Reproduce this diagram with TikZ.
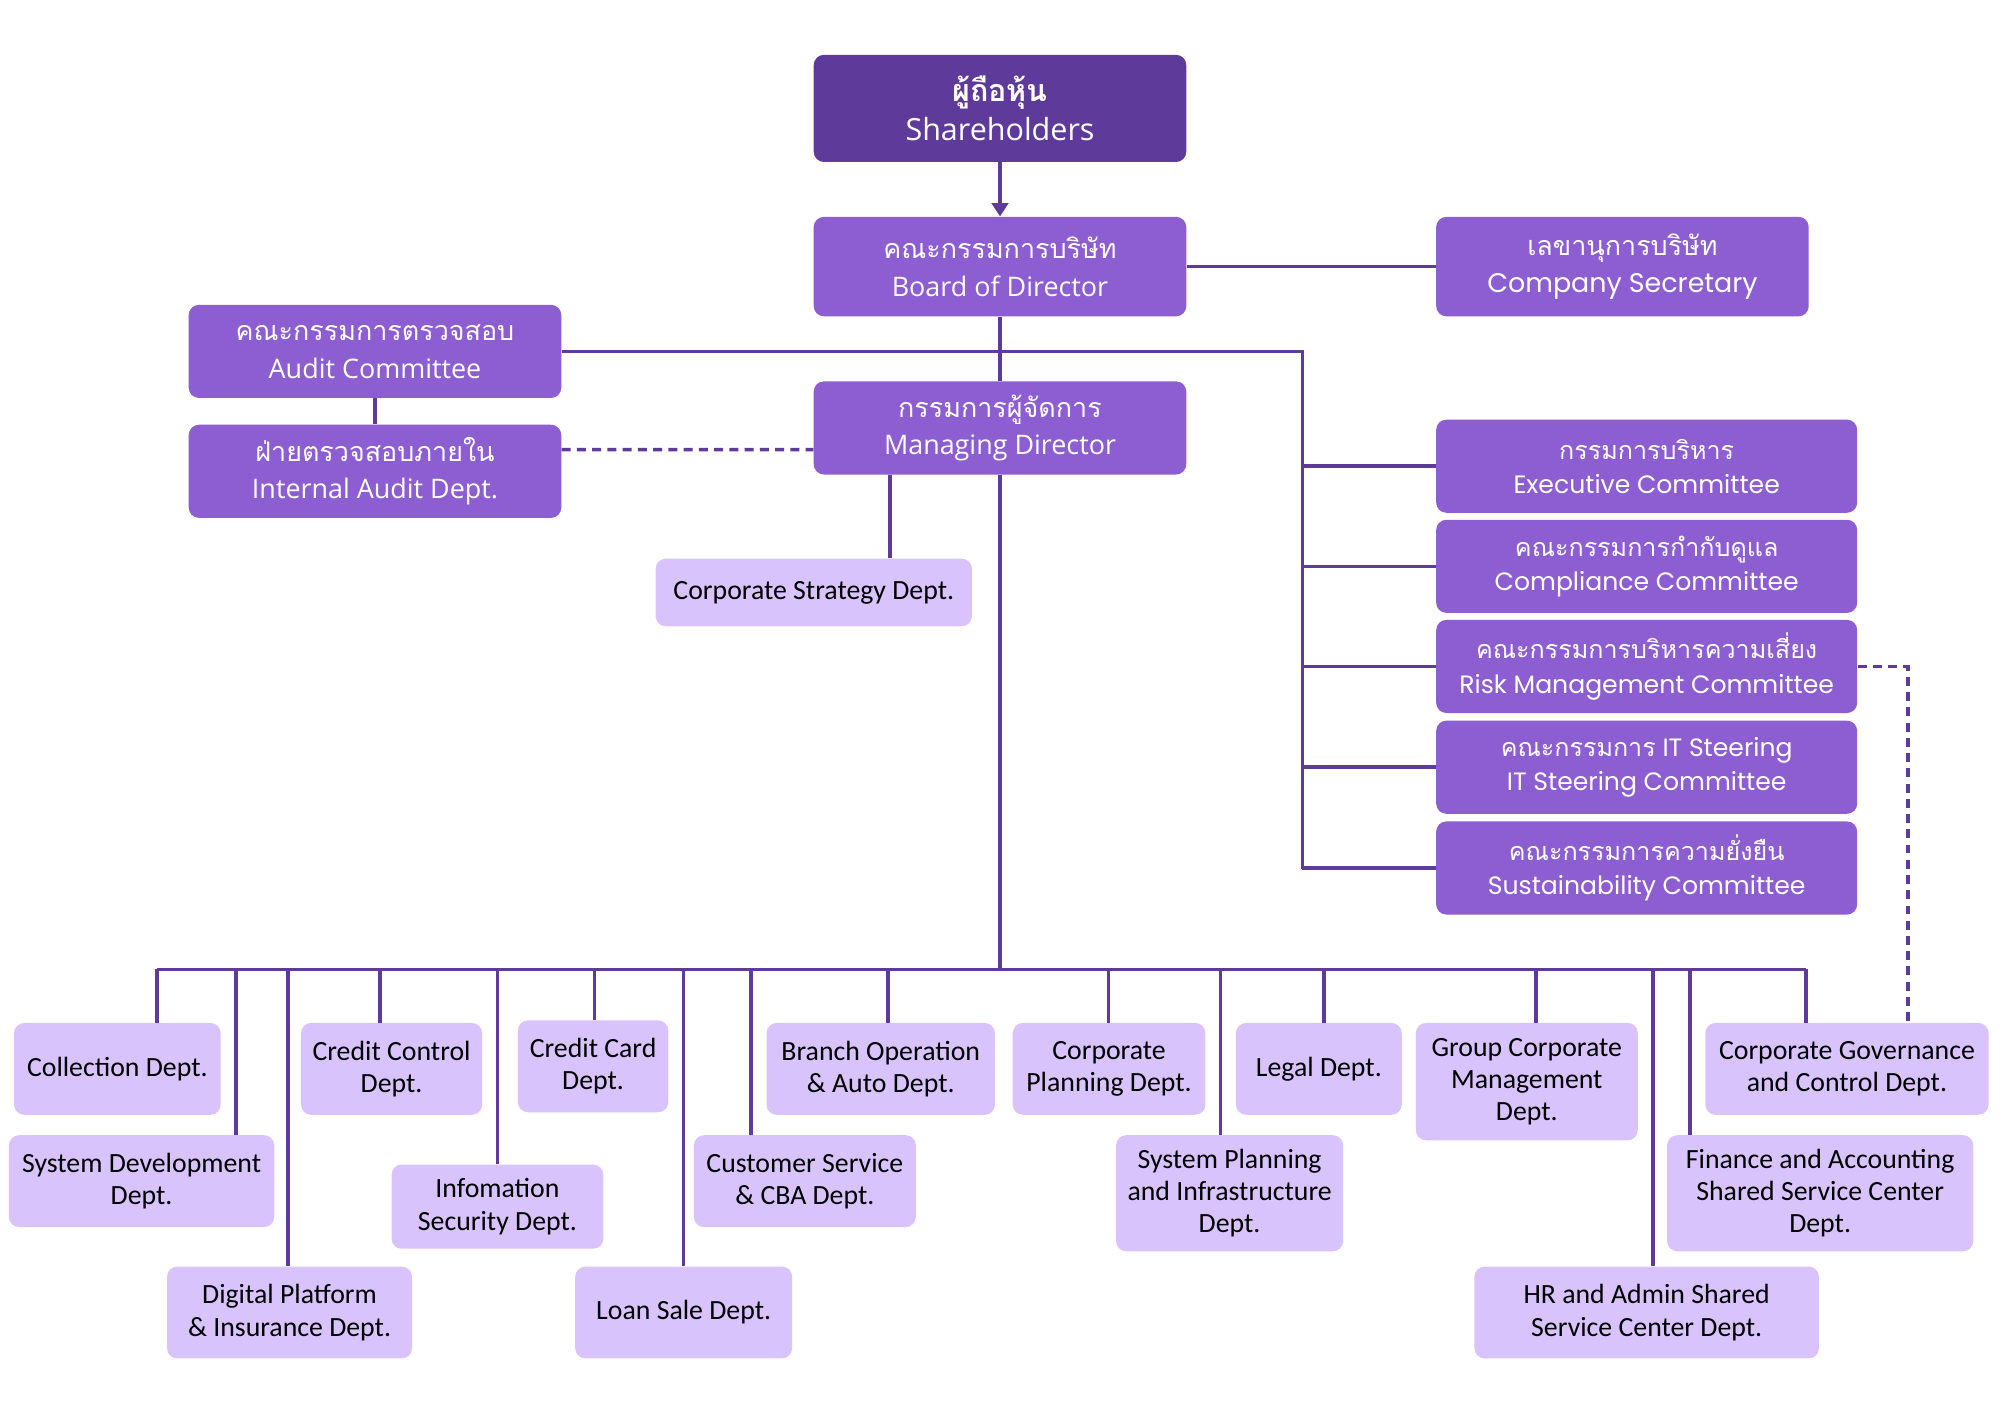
\documentclass[tikz,border=0pt]{standalone}
\usepackage{fontspec}
\setmainfont{Open Sans}
\newfontfamily\thaifont[Script=Thai]{Loma}
\newfontfamily\rightfont{Poppins}
\newfontfamily\deptfont{Carlito}
\usetikzlibrary{arrows.meta}
\definecolor{darkpurple}{HTML}{5E3A9A}
\definecolor{midpurple}{HTML}{8C5ED1}
\definecolor{lightpurple}{HTML}{D9C3FC}
\begin{document}
\begin{tikzpicture}[
x=0.025cm, y=-0.025cm,
every node/.style={rounded corners=2mm, align=center, inner sep=0pt},
topbox/.style={fill=midpurple, text=white, minimum width=7.3cm, minimum height=1.825cm, font=\fontsize{15}{21}\selectfont},
combox/.style={fill=midpurple, text=white, minimum width=8.25cm, minimum height=1.825cm, font=\rightfont\fontsize{14}{19}\selectfont},
deptbox/.style={fill=lightpurple, text=black, minimum height=1.8cm, font=\deptfont\fontsize{15.5}{18}\selectfont},
link/.style={draw=darkpurple, line width=2pt},
dashlink/.style={link, dash pattern=on 5pt off 3.5pt}
]
\useasboundingbox (0,0) rectangle (1568,1109);
\node (share) [topbox, fill=darkpurple, minimum height=2.1cm, font=\fontsize{17}{22}\selectfont] at (784,85) {{\thaifont\bfseries ผู้ถือหุ้น}\\Shareholders};
\node (board) [topbox, minimum height=1.95cm] at (784,209) {{\thaifont คณะกรรมการบริษัท}\\Board of Director};
\node (sec) [topbox, minimum height=1.95cm, font=\rightfont\fontsize{15}{21}\selectfont] at (1272,209) {{\thaifont เลขานุการบริษัท}\\Company Secretary};
\node (audit) [topbox] at (294,275.5) {{\thaifont คณะกรรมการตรวจสอบ}\\Audit Committee};
\node (intaud) [topbox] at (294,369.5) {{\thaifont ฝ่ายตรวจสอบภายใน}\\Internal Audit Dept.};
\node (md) [topbox] at (784,335.5) {{\thaifont กรรมการผู้จัดการ}\\Managing Director};
\node (strat) [deptbox, minimum width=6.2cm, minimum height=1.325cm] at (638,464.5) {Corporate Strategy Dept.};
\node (exec) [combox] at (1291,365.5) {{\thaifont กรรมการบริหาร}\\Executive Committee};
\node (compl) [combox] at (1291,444) {{\thaifont คณะกรรมการกำกับดูแล}\\Compliance Committee};
\node (risk) [combox] at (1291,522.5) {{\thaifont คณะกรรมการบริหารความเสี่ยง}\\Risk Management Committee};
\node (itst) [combox] at (1291,601.5) {{\thaifont คณะกรรมการ} IT Steering\\IT Steering Committee};
\node (sust) [combox] at (1291,680.5) {{\thaifont คณะกรรมการความยั่งยืน}\\Sustainability Committee};
\node (coll) [deptbox, minimum width=4.05cm] at (92,838) {Collection Dept.};
\node (sysdev) [deptbox, minimum width=5.2cm] at (111,926) {System Development\\Dept.};
\node (digital) [deptbox, minimum width=4.8cm] at (227,1029) {Digital Platform\\\& Insurance Dept.};
\node (creditctl) [deptbox, minimum width=3.55cm] at (307,838) {Credit Control\\Dept.};
\node (infosec) [deptbox, minimum width=4.15cm, minimum height=1.65cm] at (390,946) {Infomation\\Security Dept.};
\node (creditcard) [deptbox, minimum width=2.95cm] at (465,836) {Credit Card\\Dept.};
\node (loan) [deptbox, minimum width=4.25cm] at (536,1029) {Loan Sale Dept.};
\node (custsvc) [deptbox, minimum width=4.35cm] at (631,926) {Customer Service\\\& CBA Dept.};
\node (branch) [deptbox, minimum width=4.475cm] at (690.5,838) {Branch Operation\\\& Auto Dept.};
\node (corpplan) [deptbox, minimum width=3.775cm] at (869.5,838) {Corporate\\Planning Dept.};
\node (sysplan) [deptbox, minimum width=4.45cm, minimum height=2.275cm] at (964,935.5) {System Planning\\and Infrastructure\\Dept.};
\node (legal) [deptbox, minimum width=3.25cm] at (1034,838) {Legal Dept.};
\node (group) [deptbox, minimum width=4.35cm, minimum height=2.3cm] at (1197,848) {Group Corporate\\Management\\Dept.};
\node (hr) [deptbox, minimum width=6.75cm] at (1291,1029) {HR and Admin Shared\\Service Center Dept.};
\node (finance) [deptbox, minimum width=6cm, minimum height=2.275cm] at (1427,935.5) {Finance and Accounting\\Shared Service Center\\Dept.};
\node (corpgov) [deptbox, minimum width=5.55cm] at (1448,838) {Corporate Governance\\and Control Dept.};
\coordinate (spine) at (1021,681);
\draw[link, -{Triangle[length=2.6mm, width=3.2mm]}] (share.south) -- (board.north);
\draw[link] (board.east) -- (sec.west);
\draw[link] (board.south) -- (md.north);
\draw[link] (audit.south) -- (intaud.north);
\draw[dashlink] ([yshift=4.25mm]intaud.east) -- ([yshift=-4.25mm]md.west);
\draw[link] ([xshift=-2.15cm]md.south) -- ([xshift=-2.15cm]md.south |- strat.north);
\draw[link] (audit.east) -| (spine);
\foreach \n in {exec,compl,risk,itst,sust}
  \draw[link] (spine |- \n.west) -- (\n.west);
\draw[dashlink] (risk.east) -| ([xshift=1.2cm]corpgov.north);
\foreach \x/\n in {123/coll,185/sysdev,226/digital,298/creditctl,390/infosec,466/creditcard,536/loan,589/custsvc,696/branch,869/corpplan,957/sysplan,1038/legal,1204/group,1296/hr,1325/finance,1416/corpgov}{
  \coordinate (d\n) at (\x,760);
  \draw[link] (d\n) -- (d\n |- \n.north);
}
\draw[link] (dcoll) -- (dcorpgov);
\draw[link] (md.south) -- (md.south |- dcoll);
\end{tikzpicture}
\end{document}
